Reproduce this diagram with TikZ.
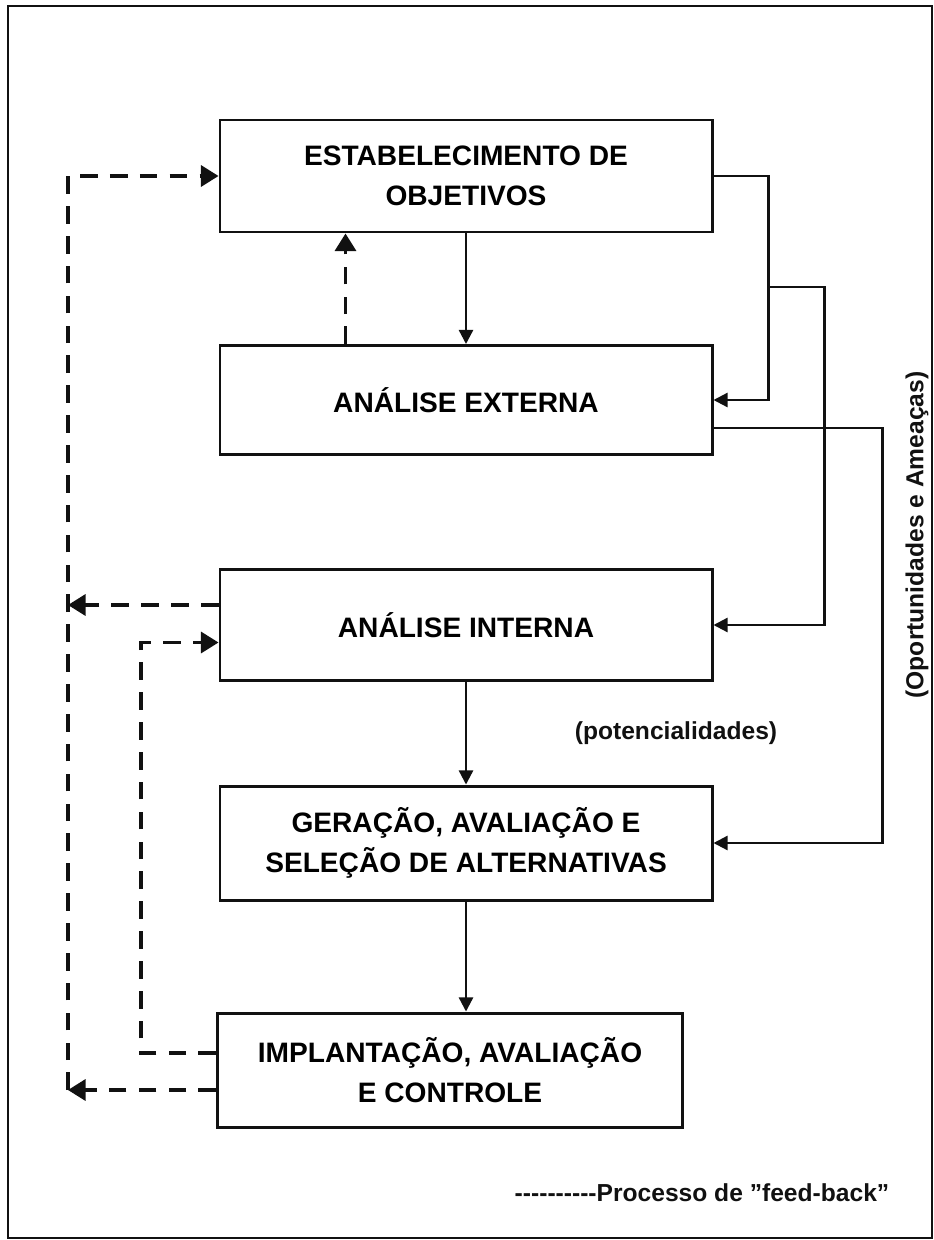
\documentclass[tikz,border=0pt]{standalone}
\usepackage{fontspec}
\setsansfont{Liberation Sans}
\usepackage{tikz}
\usetikzlibrary{arrows.meta, positioning, calc}
\definecolor{printink}{HTML}{111111}

\begin{document}
\begin{tikzpicture}[x=0.2mm, y=-0.2mm, font=\sffamily\bfseries,
  stage/.style={draw=printink, line width=1.7pt, align=center, inner sep=0pt,
    minimum width=9.84cm, font=\sffamily\bfseries\fontsize{16}{22.7}\selectfont},
  flow/.style={draw=printink, line width=1.3pt, -{Triangle[length=8pt,width=8pt]}},
  feedback/.style={draw=printink, line width=1.8pt, dash pattern=on 10pt off 7pt,
    -{Triangle[length=10pt,width=12pt]}},
  note/.style={text=printink, font=\sffamily\bfseries\fontsize{14}{16}\selectfont}]
  \useasboundingbox (0,0) rectangle (934,1240);

  % Page frame
  \draw[printink, line width=1.4pt] (8,6) rectangle (932,1238);

  % Stages
  \node[stage, minimum height=2.24cm] (objetivos) at (466,176) {ESTABELECIMENTO DE\\OBJETIVOS};
  \node[stage, minimum height=2.18cm] (externa) at (466,400) {ANÁLISE EXTERNA};
  \node[stage, minimum height=2.22cm] (interna) at (466,625) {ANÁLISE INTERNA};
  \node[stage, minimum height=2.28cm] (geracao) at (466,843) {GERAÇÃO, AVALIAÇÃO E\\SELEÇÃO DE ALTERNATIVAS};
  \node[stage, minimum height=2.28cm, minimum width=9.3cm] (implantacao) at (450,1070) {IMPLANTAÇÃO, AVALIAÇÃO\\E CONTROLE};

  % Labels
  \node[note] (potencial) at (676,733) {(potencialidades)};
  \node[note, rotate=90] (ameacas) at (917,535) {(Oportunidades e Ameaças)};
  \node[note] (legenda) at (702,1193) {{-}{-}{-}{-}{-}{-}{-}{-}{-}{-}Processo de ''feed-back''};

  % Main flow
  \draw[flow] (objetivos.south) -- (externa.north);
  \draw[flow] (interna.south) -- (geracao.north);
  \draw[flow] (geracao.south) -- (geracao.south |- implantacao.north);

  % Right side links
  \draw[flow] (objetivos.east) -- ++(55,0) coordinate (dobra) |- (externa.east);
  \coordinate (ramo) at ($(dobra)+(0,111)$);
  \draw[flow] (ramo) -- ++(56,0) |- (interna.east);
  \draw[flow] ($(externa.east)+(0,28)$) -- ++(169,0) |- (geracao.east);

  % Feed-back
  \coordinate (trilho) at (68,0);
  \draw[feedback] ($(externa.north west)+(127,0)$) -- ($(objetivos.south west)+(127,0)$);
  \draw[feedback] ($(implantacao.west)+(0,20)$) coordinate (fb1) -- (fb1 -| trilho);
  \draw[feedback] ($(interna.west)+(0,-20)$) coordinate (fb2) -- (fb2 -| trilho);
  \draw[feedback] (fb1 -| trilho) |- (objetivos.west);
  \draw[feedback] ($(implantacao.west)+(0,-17)$) -- ++(-75,0) |- ($(interna.west)+(0,17.5)$);
\end{tikzpicture}
\end{document}
